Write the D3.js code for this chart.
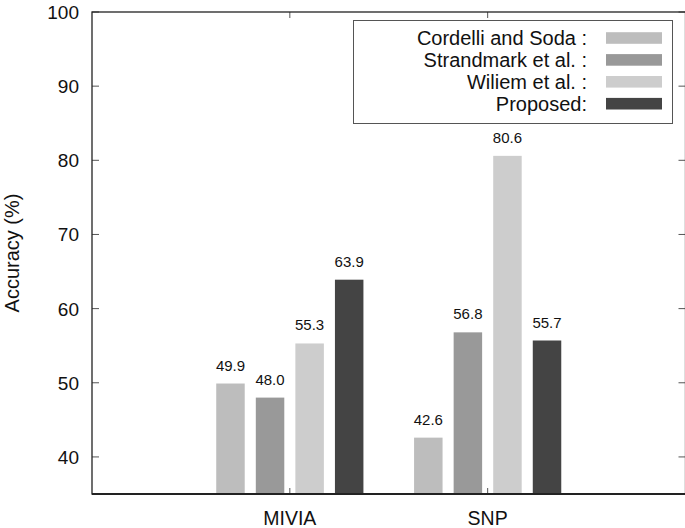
<!DOCTYPE html>
<html>
<head>
<meta charset="utf-8">
<script src="https://cdn.jsdelivr.net/npm/d3@7"></script>
<style>
  html, body { margin: 0; padding: 0; background: #fff; }
  svg { display: block; font-family: "Liberation Sans", Arial, sans-serif; }
</style>
</head>
<body>
<svg id="chart" width="685" height="528"></svg>
<script>
// ---- data ----
const categories = ["MIVIA", "SNP"];
const seriesNames = ["Cordelli and Soda :", "Strandmark et al. :", "Wiliem et al. :", "Proposed:"];
const cordelli = [49.9, 42.6];
const strandmark = [48.0, 56.8];
const wiliem = [55.3, 80.6];
const proposed = [63.9, 55.7];
const yTicks = [40, 50, 60, 70, 80, 90, 100];
const colors = ["#bdbdbd", "#999999", "#cdcdcd", "#444444"];

const seriesValues = [cordelli, strandmark, wiliem, proposed];

(function () {
// ---- layout ----
const svg = d3.select("#chart");
const pL = 92, pR = 685.5, pT = 12, pB = 494;

const x = d3.scaleLinear().domain([-1, 2]).range([pL, pR]);
const y = d3.scaleLinear().domain([35, 100]).range([pB, pT]);
const offsets = d3.scaleLinear().domain([0, 3]).range([-0.3, 0.3]);
const barW = x(0.144) - x(0);

// bars
seriesValues.forEach((vals, s) => {
  const g = svg.append("g");
  vals.forEach((v, i) => {
    const cx = x(i + offsets(s));
    g.append("rect")
      .attr("x", cx - barW / 2)
      .attr("y", y(v))
      .attr("width", barW)
      .attr("height", y(35) - y(v))
      .attr("fill", colors[s]);
    g.append("text")
      .attr("x", cx)
      .attr("y", y(v) - 13)
      .attr("text-anchor", "middle")
      .attr("font-size", 15)
      .attr("fill", "#111")
      .text(v.toFixed(1));
  });
});

// y ticks (left and mirrored right)
yTicks.forEach(t => {
  svg.append("line").attr("x1", pL).attr("x2", pL + 7)
    .attr("y1", y(t)).attr("y2", y(t)).attr("stroke", "#555").attr("stroke-width", 1);
  svg.append("line").attr("x1", pR - 7).attr("x2", pR)
    .attr("y1", y(t)).attr("y2", y(t)).attr("stroke", "#555").attr("stroke-width", 1);
  svg.append("text").attr("x", 79).attr("y", y(t) + 7)
    .attr("text-anchor", "end").attr("font-size", 19).attr("fill", "#111").text(t);
});

// x ticks and labels
categories.forEach((c, i) => {
  svg.append("line").attr("x1", x(i)).attr("x2", x(i))
    .attr("y1", pB).attr("y2", pB - 6).attr("stroke", "#555");
  svg.append("line").attr("x1", x(i)).attr("x2", x(i))
    .attr("y1", pT).attr("y2", pT + 6).attr("stroke", "#555");
  svg.append("text").attr("x", x(i)).attr("y", 525)
    .attr("text-anchor", "middle").attr("font-size", 19.5).attr("fill", "#111").text(c);
});

// frame
svg.append("rect").attr("x", pL).attr("y", pT)
  .attr("width", pR - pL).attr("height", pB - pT)
  .attr("fill", "none").attr("stroke", "#222").attr("stroke-width", 1.3);
svg.append("line").attr("x1", pL).attr("x2", pR)
  .attr("y1", pB).attr("y2", pB).attr("stroke", "#222").attr("stroke-width", 2);

// y-axis title
svg.append("text")
  .attr("transform", `translate(18.5,${(pT + pB) / 2}) rotate(-90)`)
  .attr("text-anchor", "middle").attr("font-size", 20).attr("fill", "#111")
  .text("Accuracy (%)");

// legend
const lg = svg.append("g");
lg.append("rect").attr("x", 353.5).attr("y", 20.5).attr("width", 319).attr("height", 103)
  .attr("fill", "#fff").attr("stroke", "#555").attr("stroke-width", 1);
seriesNames.forEach((n, s) => {
  const cy = 38 + s * 21.9;
  lg.append("text").attr("x", 587).attr("y", cy + 6.8)
    .attr("text-anchor", "end").attr("font-size", 20).attr("fill", "#111").text(n);
  lg.append("rect").attr("x", 606).attr("y", cy - 5.8).attr("width", 56).attr("height", 11.6)
    .attr("fill", colors[s]);
});
})();
</script>
</body>
</html>
